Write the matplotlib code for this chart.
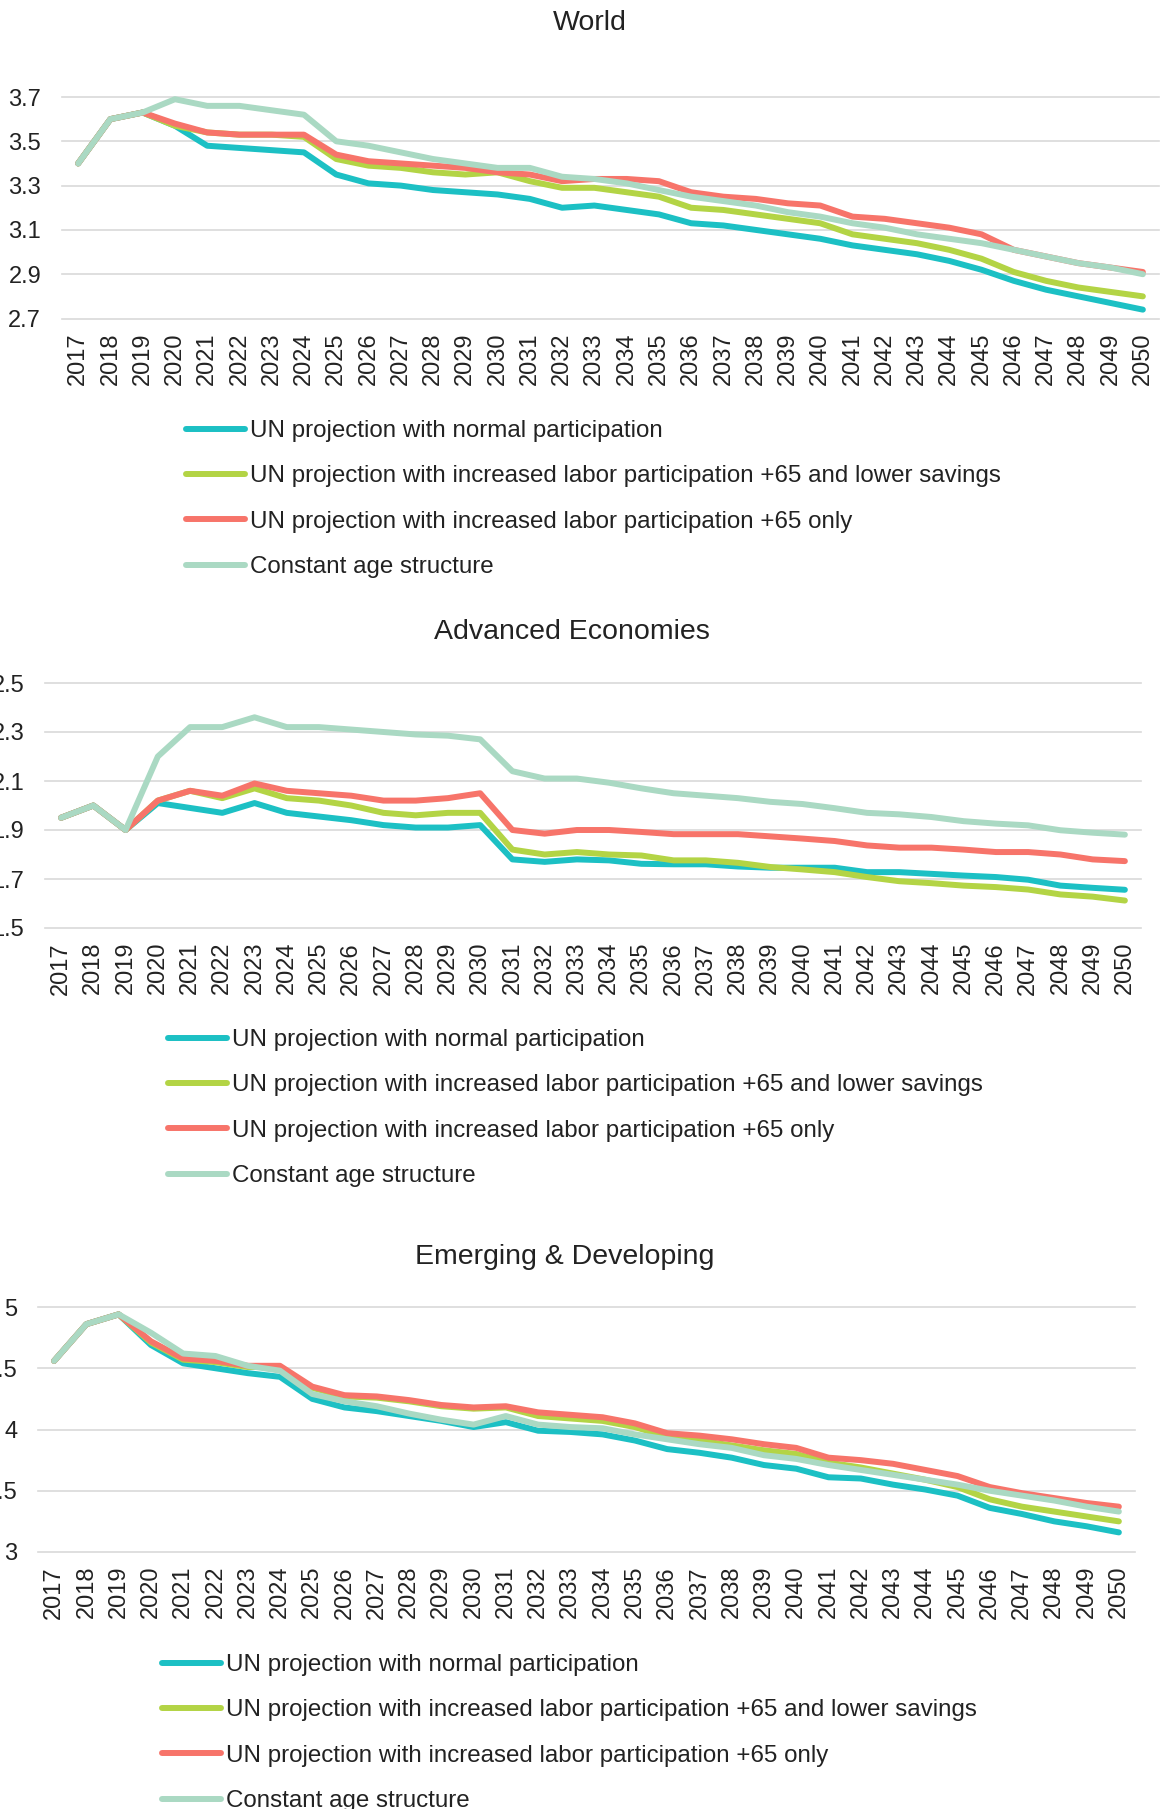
import numpy as np
import matplotlib
matplotlib.use('Agg')
import matplotlib.pyplot as plt

plt.rcParams['font.family'] = ['Liberation Sans', 'DejaVu Sans']

years = [str(y) for y in range(2017, 2051)]
labels = ['UN projection with normal participation',
          'UN projection with increased labor participation +65 and lower savings',
          'UN projection with increased labor participation +65 only',
          'Constant age structure']
colors = ['#1cc0c4', '#b3d445', '#f7746a', '#aad9c3']

# World
world_normal = [3.40, 3.60, 3.63, 3.57, 3.48, 3.47, 3.46, 3.45, 3.35, 3.31, 3.30, 3.28, 3.27, 3.26, 3.24, 3.20, 3.21,
                3.19, 3.17, 3.13, 3.12, 3.10, 3.08, 3.06, 3.03, 3.01, 2.99, 2.96, 2.92, 2.87, 2.83, 2.80, 2.77, 2.74]
world_low_sav = [3.40, 3.60, 3.63, 3.57, 3.54, 3.53, 3.53, 3.52, 3.42, 3.39, 3.38, 3.36, 3.35, 3.36, 3.32, 3.29, 3.29,
                 3.27, 3.25, 3.20, 3.19, 3.17, 3.15, 3.13, 3.08, 3.06, 3.04, 3.01, 2.97, 2.91, 2.87, 2.84, 2.82, 2.80]
world_plus65 = [3.40, 3.60, 3.63, 3.58, 3.54, 3.53, 3.53, 3.53, 3.44, 3.41, 3.40, 3.39, 3.38, 3.36, 3.35, 3.32, 3.33,
                3.33, 3.32, 3.27, 3.25, 3.24, 3.22, 3.21, 3.16, 3.15, 3.13, 3.11, 3.08, 3.01, 2.98, 2.95, 2.93, 2.91]
world_const = [3.40, 3.60, 3.63, 3.69, 3.66, 3.66, 3.64, 3.62, 3.50, 3.48, 3.45, 3.42, 3.40, 3.38, 3.38, 3.34, 3.33,
               3.31, 3.28, 3.25, 3.23, 3.21, 3.18, 3.16, 3.13, 3.11, 3.08, 3.06, 3.04, 3.01, 2.98, 2.95, 2.93, 2.90]

# Advanced Economies
adv_normal = [1.95, 2.00, 1.90, 2.01, 1.99, 1.97, 2.01, 1.97, 1.955, 1.94, 1.92, 1.91, 1.91, 1.92, 1.78, 1.77, 1.78,
              1.776, 1.762, 1.76, 1.76, 1.751, 1.746, 1.746, 1.746, 1.728, 1.728, 1.721, 1.714, 1.708, 1.697, 1.673,
              1.664, 1.656]
adv_low_sav = [1.95, 2.00, 1.90, 2.02, 2.06, 2.03, 2.07, 2.03, 2.02, 2.00, 1.97, 1.96, 1.97, 1.97, 1.82, 1.80, 1.81,
               1.80, 1.796, 1.776, 1.776, 1.766, 1.749, 1.739, 1.728, 1.708, 1.691, 1.683, 1.673, 1.667, 1.657, 1.637,
               1.628, 1.612]
adv_plus65 = [1.95, 2.00, 1.90, 2.02, 2.06, 2.04, 2.09, 2.06, 2.05, 2.04, 2.02, 2.02, 2.03, 2.05, 1.90, 1.885, 1.90,
              1.90, 1.892, 1.883, 1.883, 1.883, 1.874, 1.865, 1.855, 1.837, 1.828, 1.828, 1.82, 1.81, 1.81, 1.80,
              1.78, 1.773]
adv_const = [1.95, 2.00, 1.90, 2.20, 2.32, 2.32, 2.36, 2.32, 2.32, 2.31, 2.30, 2.29, 2.285, 2.27, 2.14, 2.11, 2.11,
             2.093, 2.07, 2.05, 2.04, 2.03, 2.015, 2.006, 1.989, 1.97, 1.964, 1.953, 1.936, 1.926, 1.919, 1.899,
             1.889, 1.881]

# Emerging & Developing
em_normal = [4.56, 4.86, 4.94, 4.69, 4.54, 4.50, 4.46, 4.43, 4.25, 4.18, 4.15, 4.11, 4.07, 4.02, 4.06, 3.99, 3.98,
             3.96, 3.91, 3.84, 3.81, 3.77, 3.71, 3.68, 3.61, 3.60, 3.55, 3.51, 3.46, 3.36, 3.31, 3.25, 3.21, 3.16]
em_low_sav = [4.56, 4.86, 4.94, 4.71, 4.57, 4.55, 4.51, 4.51, 4.34, 4.27, 4.26, 4.23, 4.19, 4.17, 4.18, 4.11, 4.09,
              4.07, 4.02, 3.94, 3.91, 3.87, 3.83, 3.80, 3.73, 3.69, 3.64, 3.59, 3.53, 3.43, 3.37, 3.33, 3.29, 3.25]
em_plus65 = [4.56, 4.86, 4.94, 4.72, 4.58, 4.56, 4.52, 4.52, 4.35, 4.28, 4.27, 4.24, 4.20, 4.18, 4.19, 4.14, 4.12,
             4.10, 4.05, 3.97, 3.95, 3.92, 3.88, 3.85, 3.77, 3.75, 3.72, 3.67, 3.62, 3.53, 3.48, 3.44, 3.40, 3.37]
em_const = [4.56, 4.86, 4.94, 4.79, 4.62, 4.60, 4.52, 4.48, 4.29, 4.23, 4.19, 4.13, 4.08, 4.04, 4.11, 4.04, 4.02,
            4.01, 3.96, 3.92, 3.88, 3.85, 3.79, 3.76, 3.71, 3.67, 3.63, 3.59, 3.55, 3.50, 3.46, 3.42, 3.37, 3.33]

W, H = 1161, 1809
fig = plt.figure(figsize=(W / 100, H / 100), dpi=100)


def rect(left, right, top, bottom):
    return [left / W, 1 - bottom / H, (right - left) / W, (bottom - top) / H]


panels = [
    dict(title='World', series=[world_normal, world_low_sav, world_plus65, world_const],
         box=(62, 1159, 97, 318.5), ylim=(2.7, 3.7), ticks=[2.7, 2.9, 3.1, 3.3, 3.5, 3.7],
         ticklabels=['2.7', '2.9', '3.1', '3.3', '3.5', '3.7'],
         title_xy=(590, 23), leg_xy=(186, 420)),
    dict(title='Advanced Economies', series=[adv_normal, adv_low_sav, adv_plus65, adv_const],
         box=(45, 1141, 683, 928), ylim=(1.5, 2.5), ticks=[1.5, 1.7, 1.9, 2.1, 2.3, 2.5],
         ticklabels=['1.5', '1.7', '1.9', '2.1', '2.3', '2.5'],
         title_xy=(572, 632), leg_xy=(168, 1029)),
    dict(title='Emerging & Developing', series=[em_normal, em_low_sav, em_plus65, em_const],
         box=(38, 1135, 1307, 1552), ylim=(3, 5), ticks=[3, 3.5, 4, 4.5, 5],
         ticklabels=['3', '3.5', '4', '4.5', '5'],
         title_xy=(565, 1257), leg_xy=(162, 1654)),
]

x = np.arange(len(years))
for p in panels:
    ax = fig.add_axes(rect(*p['box']))
    for vals, c, lab in zip(p['series'], colors, labels):
        ax.plot(x, vals, color=c, lw=4.3, label=lab, solid_capstyle='round',
                solid_joinstyle='round', clip_on=False, zorder=3)
    ax.set_xlim(-0.5, len(years) - 0.5)
    ax.set_ylim(*p['ylim'])
    ax.set_yticks(p['ticks'])
    ax.set_yticklabels(p['ticklabels'])
    ax.set_xticks(x)
    ax.set_xticklabels(years, rotation=90)
    ax.tick_params(axis='y', length=0, pad=15, labelsize=17, labelcolor='#222222')
    ax.tick_params(axis='x', length=0, pad=10, labelsize=17, labelcolor='#222222')
    ax.grid(axis='y', color='#d9d9d9', lw=1.2, clip_on=False)
    ax.set_axisbelow(True)
    for s in ax.spines.values():
        s.set_visible(False)
    fig.text(p['title_xy'][0] / W, 1 - p['title_xy'][1] / H, p['title'], ha='center', va='center',
             fontsize=20.5, color='#222222')
    ax.legend(loc='upper left', bbox_to_anchor=(p['leg_xy'][0] / W, 1 - p['leg_xy'][1] / H),
              bbox_transform=fig.transFigure, frameon=False, borderaxespad=0, borderpad=0,
              prop={'size': 17.4}, handlelength=2.45, handletextpad=0.2, labelspacing=0.97,
              labelcolor='#222222')

fig.savefig('out.png', dpi=100)
